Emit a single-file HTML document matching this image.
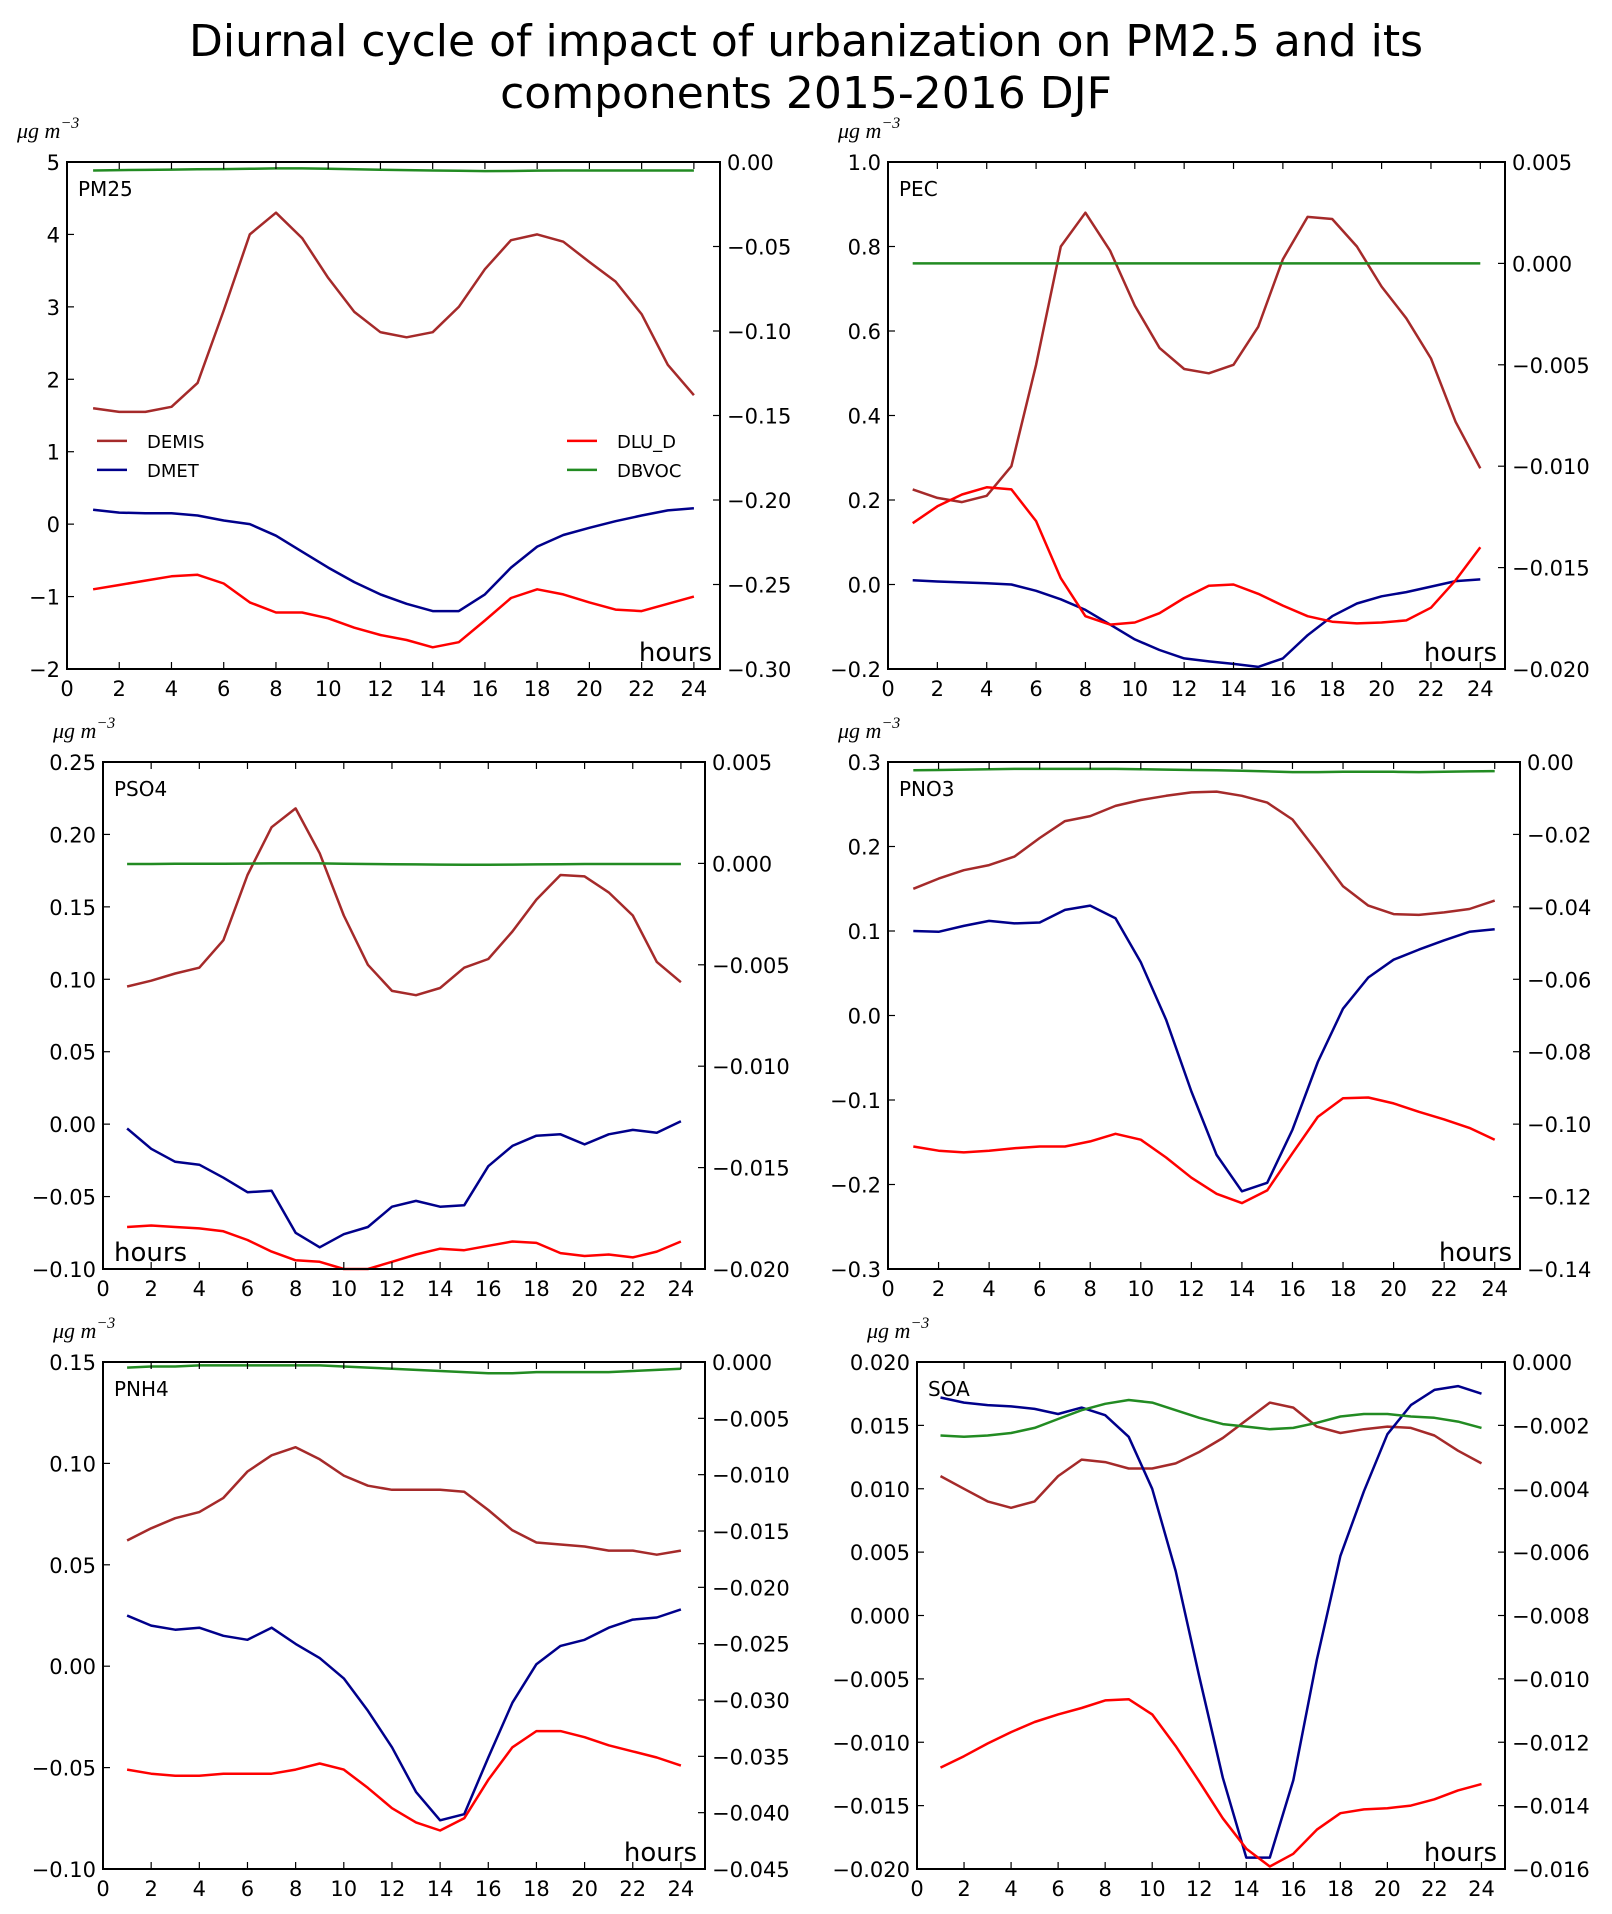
<!DOCTYPE html>
<html><head><meta charset="utf-8"><style>
body{margin:0;background:#fff;width:1612px;height:1914px;overflow:hidden}
svg{display:block;font-family:"DejaVu Sans","Liberation Sans",sans-serif}
</style></head><body>
<svg id="fig" width="1612" height="1914" viewBox="0 0 1612 1914" xmlns="http://www.w3.org/2000/svg">
<text x="806" y="56" font-size="44" text-anchor="middle">Diurnal cycle of impact of urbanization on PM2.5 and its</text>
<text x="806" y="108" font-size="44" text-anchor="middle">components 2015-2016 DJF</text>
</svg>
<script>
const hours=[1,2,3,4,5,6,7,8,9,10,11,12,13,14,15,16,17,18,19,20,21,22,23,24];
const xTicks=[0,2,4,6,8,10,12,14,16,18,20,22,24];
// PM25
const pm25Demis=[1.6,1.55,1.55,1.62,1.95,2.95,4.0,4.3,3.95,3.4,2.93,2.65,2.58,2.65,3.0,3.52,3.92,4.0,3.9,3.62,3.35,2.9,2.2,1.78];
const pm25Dmet=[0.2,0.16,0.15,0.15,0.12,0.05,0.0,-0.16,-0.38,-0.6,-0.8,-0.97,-1.1,-1.2,-1.2,-0.97,-0.6,-0.31,-0.15,-0.05,0.04,0.12,0.19,0.22];
const pm25Dlu=[-0.9,-0.84,-0.78,-0.72,-0.7,-0.82,-1.08,-1.22,-1.22,-1.3,-1.43,-1.53,-1.6,-1.7,-1.63,-1.33,-1.02,-0.9,-0.97,-1.08,-1.18,-1.2,-1.1,-1.0];
const pm25Dbvoc=[-0.005,-0.0048,-0.0047,-0.0045,-0.0043,-0.0042,-0.004,-0.0038,-0.0038,-0.004,-0.0043,-0.0046,-0.0048,-0.005,-0.0052,-0.0054,-0.0053,-0.0051,-0.005,-0.005,-0.005,-0.005,-0.005,-0.005];
const pm25LeftTicks=["−2","−1","0","1","2","3","4","5"];
const pm25RightTicks=["−0.30","−0.25","−0.20","−0.15","−0.10","−0.05","0.00"];
// PEC
const pecDemis=[0.225,0.205,0.195,0.21,0.28,0.52,0.8,0.88,0.79,0.66,0.56,0.51,0.5,0.52,0.61,0.77,0.87,0.865,0.8,0.705,0.63,0.535,0.385,0.275];
const pecDmet=[0.01,0.007,0.005,0.003,0.0,-0.015,-0.035,-0.06,-0.095,-0.13,-0.155,-0.175,-0.182,-0.188,-0.195,-0.175,-0.12,-0.075,-0.045,-0.028,-0.018,-0.005,0.008,0.012];
const pecDlu=[0.145,0.185,0.213,0.23,0.225,0.15,0.015,-0.075,-0.095,-0.09,-0.068,-0.032,-0.003,0.0,-0.022,-0.05,-0.075,-0.088,-0.092,-0.09,-0.085,-0.055,0.01,0.088];
const pecDbvoc=[0,0,0,0,0,0,0,0,0,0,0,0,0,0,0,0,0,0,0,0,0,0,0,0];
const pecLeftTicks=["−0.2","0.0","0.2","0.4","0.6","0.8","1.0"];
const pecRightTicks=["−0.020","−0.015","−0.010","−0.005","0.000","0.005"];
// PSO4
const pso4Demis=[0.095,0.099,0.104,0.108,0.127,0.172,0.205,0.218,0.187,0.144,0.11,0.092,0.089,0.094,0.108,0.114,0.133,0.155,0.172,0.171,0.16,0.144,0.112,0.098];
const pso4Dmet=[-0.003,-0.017,-0.026,-0.028,-0.037,-0.047,-0.046,-0.075,-0.085,-0.076,-0.071,-0.057,-0.053,-0.057,-0.056,-0.029,-0.015,-0.008,-0.007,-0.014,-0.007,-0.004,-0.006,0.002];
const pso4Dlu=[-0.071,-0.07,-0.071,-0.072,-0.074,-0.08,-0.088,-0.094,-0.095,-0.1,-0.1,-0.095,-0.09,-0.086,-0.087,-0.084,-0.081,-0.082,-0.089,-0.091,-0.09,-0.092,-0.088,-0.081];
const pso4Dbvoc=[-0.00003,-0.00003,-0.00002,-0.00002,-0.00002,-0.00001,0,0,0,-0.00002,-0.00003,-0.00004,-0.00005,-0.00006,-0.00007,-0.00007,-0.00006,-0.00005,-0.00004,-0.00003,-0.00003,-0.00003,-0.00003,-0.00003];
const pso4LeftTicks=["−0.10","−0.05","0.00","0.05","0.10","0.15","0.20","0.25"];
const pso4RightTicks=["−0.020","−0.015","−0.010","−0.005","0.000","0.005"];
// PNO3
const pno3Demis=[0.15,0.162,0.172,0.178,0.188,0.21,0.23,0.236,0.248,0.255,0.26,0.264,0.265,0.26,0.252,0.232,0.193,0.153,0.13,0.12,0.119,0.122,0.126,0.136];
const pno3Dmet=[0.1,0.099,0.106,0.112,0.109,0.11,0.125,0.13,0.115,0.063,-0.005,-0.09,-0.165,-0.208,-0.198,-0.135,-0.055,0.008,0.045,0.066,0.078,0.089,0.099,0.102];
const pno3Dlu=[-0.155,-0.16,-0.162,-0.16,-0.157,-0.155,-0.155,-0.149,-0.14,-0.147,-0.168,-0.192,-0.211,-0.222,-0.207,-0.163,-0.12,-0.098,-0.097,-0.104,-0.114,-0.123,-0.133,-0.147];
const pno3Dbvoc=[-0.0023,-0.0022,-0.0021,-0.002,-0.0019,-0.0019,-0.0019,-0.0019,-0.0019,-0.002,-0.0021,-0.0022,-0.0023,-0.0024,-0.0026,-0.0028,-0.0028,-0.0027,-0.0027,-0.0027,-0.0028,-0.0027,-0.0026,-0.0025];
const pno3LeftTicks=["−0.3","−0.2","−0.1","0.0","0.1","0.2","0.3"];
const pno3RightTicks=["−0.14","−0.12","−0.10","−0.08","−0.06","−0.04","−0.02","0.00"];
// PNH4
const pnh4Demis=[0.062,0.068,0.073,0.076,0.083,0.096,0.104,0.108,0.102,0.094,0.089,0.087,0.087,0.087,0.086,0.077,0.067,0.061,0.06,0.059,0.057,0.057,0.055,0.057];
const pnh4Dmet=[0.025,0.02,0.018,0.019,0.015,0.013,0.019,0.011,0.004,-0.006,-0.022,-0.04,-0.062,-0.076,-0.073,-0.045,-0.018,0.001,0.01,0.013,0.019,0.023,0.024,0.028];
const pnh4Dlu=[-0.051,-0.053,-0.054,-0.054,-0.053,-0.053,-0.053,-0.051,-0.048,-0.051,-0.06,-0.07,-0.077,-0.081,-0.075,-0.056,-0.04,-0.032,-0.032,-0.035,-0.039,-0.042,-0.045,-0.049];
const pnh4Dbvoc=[-0.0005,-0.0004,-0.0004,-0.0003,-0.0003,-0.0003,-0.0003,-0.0003,-0.0003,-0.0004,-0.0005,-0.0006,-0.0007,-0.0008,-0.0009,-0.001,-0.001,-0.0009,-0.0009,-0.0009,-0.0009,-0.0008,-0.0007,-0.0006];
const pnh4LeftTicks=["−0.10","−0.05","0.00","0.05","0.10","0.15"];
const pnh4RightTicks=["−0.045","−0.040","−0.035","−0.030","−0.025","−0.020","−0.015","−0.010","−0.005","0.000"];
// SOA
const soaDemis=[0.011,0.01,0.009,0.0085,0.009,0.011,0.0123,0.0121,0.0116,0.0116,0.012,0.0129,0.014,0.0154,0.0168,0.0164,0.0149,0.0144,0.0147,0.0149,0.0148,0.0142,0.013,0.012];
const soaDmet=[0.0172,0.0168,0.0166,0.0165,0.0163,0.0159,0.0164,0.0158,0.0141,0.01,0.0035,-0.0048,-0.0128,-0.0191,-0.0191,-0.013,-0.0035,0.0047,0.0098,0.0143,0.0166,0.0178,0.0181,0.0175];
const soaDlu=[-0.012,-0.0111,-0.0101,-0.0092,-0.0084,-0.0078,-0.0073,-0.0067,-0.0066,-0.0078,-0.0103,-0.0131,-0.016,-0.0184,-0.0198,-0.0188,-0.0169,-0.0156,-0.0153,-0.0152,-0.015,-0.0145,-0.0138,-0.0133];
const soaDbvoc=[-0.00232,-0.00236,-0.00232,-0.00224,-0.00208,-0.0018,-0.00152,-0.00132,-0.0012,-0.00128,-0.00152,-0.00176,-0.00196,-0.00204,-0.00212,-0.00208,-0.00192,-0.00172,-0.00164,-0.00164,-0.00172,-0.00176,-0.00188,-0.00208];
const soaLeftTicks=["−0.020","−0.015","−0.010","−0.005","0.000","0.005","0.010","0.015","0.020"];
const soaRightTicks=["−0.016","−0.014","−0.012","−0.010","−0.008","−0.006","−0.004","−0.002","0.000"];

const NS="http://www.w3.org/2000/svg";
const svg=document.getElementById('fig');
function mk(tag,attrs,parent){const e=document.createElementNS(NS,tag);for(const k in attrs)e.setAttribute(k,attrs[k]);(parent||svg).appendChild(e);return e;}
const toNum=s=>parseFloat(s.replace('−','-'));
const COLORS={demis:'#a52a2a',dmet:'#00008b',dlu:'#ff0000',dbvoc:'#228b22'};

const panels=[
 {name:'PM25',box:[67,162,720,669],L:pm25LeftTicks,R:pm25RightTicks,s:[pm25Demis,pm25Dmet,pm25Dlu,pm25Dbvoc],hours:'right',legend:true},
 {name:'PEC',box:[888,162,1505,669],L:pecLeftTicks,R:pecRightTicks,s:[pecDemis,pecDmet,pecDlu,pecDbvoc],hours:'right'},
 {name:'PSO4',box:[103,762,705,1269],L:pso4LeftTicks,R:pso4RightTicks,s:[pso4Demis,pso4Dmet,pso4Dlu,pso4Dbvoc],hours:'left'},
 {name:'PNO3',box:[888,762,1520,1269],L:pno3LeftTicks,R:pno3RightTicks,s:[pno3Demis,pno3Dmet,pno3Dlu,pno3Dbvoc],hours:'right'},
 {name:'PNH4',box:[103,1362,705,1869],L:pnh4LeftTicks,R:pnh4RightTicks,s:[pnh4Demis,pnh4Dmet,pnh4Dlu,pnh4Dbvoc],hours:'right'},
 {name:'SOA',box:[917,1362,1505,1869],L:soaLeftTicks,R:soaRightTicks,s:[soaDemis,soaDmet,soaDlu,soaDbvoc],hours:'right'}
];
const keys=['demis','dmet','dlu','dbvoc'];

panels.forEach(p=>{
 const [x0,y0,x1,y1]=p.box;
 const g=mk('g',{});
 
 
 const lmin=toNum(p.L[0]),lmax=toNum(p.L[p.L.length-1]);
 const rmin=toNum(p.R[0]),rmax=toNum(p.R[p.R.length-1]);
 const xs=v=>x0+(v/25)*(x1-x0);
 const yl=v=>y1-(v-lmin)/(lmax-lmin)*(y1-y0);
 const yr=v=>y1-(v-rmin)/(rmax-rmin)*(y1-y0);
 p.s.forEach((arr,i)=>{
  const yf=i===3?yr:yl;
  const d=arr.map((v,j)=>(j?'L':'M')+xs(hours[j]).toFixed(1)+','+yf(v).toFixed(1)).join('');
  const path=mk('path',{d:d,fill:'none',stroke:COLORS[keys[i]],'stroke-width':2.5,'stroke-linejoin':'round'},g);
  
  
 });
 const fr=mk('rect',{x:x0,y:y0,width:x1-x0,height:y1-y0,fill:'none',stroke:'#000','stroke-width':2},g);
 
 
 xTicks.forEach(t=>{
  const x=xs(t);
  mk('line',{x1:x,y1:y1,x2:x,y2:y1-7,stroke:'#000','stroke-width':1.2},g);
  mk('line',{x1:x,y1:y0,x2:x,y2:y0+7,stroke:'#000','stroke-width':1.2},g);
  const tx=mk('text',{x:x,y:y1+27,'font-size':21,'text-anchor':'middle'},g);
  
  
  tx.textContent=t;
 });
 p.L.forEach(s=>{
  const y=yl(toNum(s));
  mk('line',{x1:x0,y1:y,x2:x0+7,y2:y,stroke:'#000','stroke-width':1.2},g);
  const tx=mk('text',{x:x0-7,y:y+8,'font-size':21,'text-anchor':'end'},g);
  
  
  tx.textContent=s;
 });
 p.R.forEach(s=>{
  const y=yr(toNum(s));
  mk('line',{x1:x1,y1:y,x2:x1-7,y2:y,stroke:'#000','stroke-width':1.2},g);
  const tx=mk('text',{x:x1+7,y:y+8,'font-size':21,'text-anchor':'start'},g);
  
  
  tx.textContent=s;
 });
 const lab=mk('text',{x:x0+11,y:y0+34,'font-size':20},g);
 
 
 lab.textContent=p.name;
 const hr=mk('text',{x:p.hours==='right'?x1-8:x0+11,y:y1-8,'font-size':26,'text-anchor':p.hours==='right'?'end':'start'},g);
 
 
 hr.textContent='hours';
 const un=mk('text',{x:x0-50,y:y0-24,'font-size':22,'font-style':'italic','font-family':'"Liberation Serif",serif'},g);
 
 
 un.innerHTML='μg m<tspan dy="-10" font-size="16">−3</tspan>';
 if(p.legend){
  const ents=[['DEMIS',0,x0+30,yl(1.15)],['DMET',1,x0+30,yl(0.75)],['DLU_D',2,x0+500,yl(1.15)],['DBVOC',3,x0+500,yl(0.75)]];
  ents.forEach(e=>{
   const lg=mk('g',{},g);
   
   
   mk('line',{x1:e[2],y1:e[3],x2:e[2]+30,y2:e[3],stroke:COLORS[keys[e[1]]],'stroke-width':2.5},lg);
   const t=mk('text',{x:e[2]+50,y:e[3]+7,'font-size':18},lg);
   t.textContent=e[0];
  });
 }
});
</script>
</body></html>
